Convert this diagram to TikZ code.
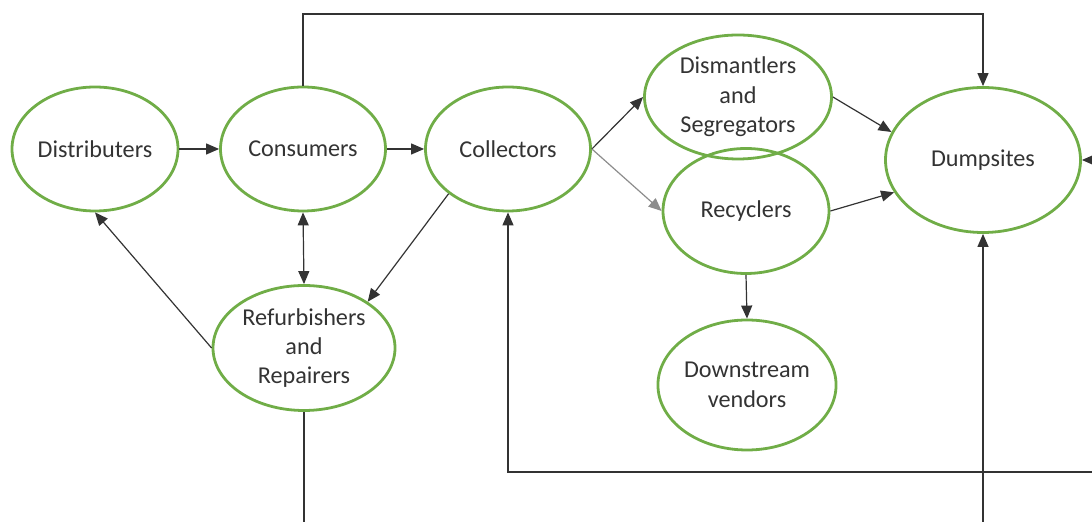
\documentclass[tikz,border=0pt]{standalone}
\usepackage{fontspec}
\setmainfont{Carlito}
\usetikzlibrary{shapes.geometric,arrows.meta}
\definecolor{leafgreen}{RGB}{112,173,71}

\begin{document}
\begin{tikzpicture}[x=0.5pt, y=-0.5pt,
    actor/.style={ellipse, draw=leafgreen, line width=1.4pt, inner sep=0pt, align=center,
        text=black!80, font=\fontsize{12.1}{14.7}\selectfont},
    flow/.style={draw=black!80, line width=0.6pt, -{Triangle[length=6.5pt, width=5.5pt]}}]
    \useasboundingbox (0,0) rectangle (1092,522);
    \node[actor, minimum width=83pt, minimum height=62pt] (dist) at (95,149) {Distributers};
    \node[actor, minimum width=82.5pt, minimum height=62pt] (con) at (303,149) {Consumers};
    \node[actor, minimum width=82.5pt, minimum height=62pt] (col) at (508,149) {Collectors};
    \node[actor, minimum width=93.5pt, minimum height=62pt] (dis) at (738,97) {Dismantlers\\and\\Segregators};
    \node[actor, minimum width=83pt, minimum height=62.5pt] (rec) at (746,211) {Recyclers};
    \node[actor, minimum width=97.5pt, minimum height=72.5pt] (dump) at (983,160) {Dumpsites};
    \node[actor, minimum width=91pt, minimum height=62.5pt] (ref) at (304,348) {Refurbishers\\and\\Repairers};
    \node[actor, minimum width=89pt, minimum height=65pt] (down) at (747,385) {Downstream\\vendors};

    \coordinate (topy) at (0,14);
    \coordinate (rightin) at (1094,160);
    \coordinate (botR) at (983,524);
    \coordinate (botL) at (304,524);
    \coordinate (loopR) at (1094,472);

    \draw[flow] (dist) -- (con);
    \draw[flow] (con) -- (col);
    \draw[flow] (col.east) -- (dis.west);
    \draw[flow, draw=black!45] (col.east) -- (rec.west);
    \draw[flow] (dis.east) -- (dump.163);
    \draw[flow] (rec.east) -- (dump.200);
    \draw[flow] (rec.south) -- (down.north);
    \draw[flow, {Triangle[length=6.5pt, width=5.5pt]}-{Triangle[length=6.5pt, width=5.5pt]}] (con.south) -- (ref.north);
    \draw[flow] (col.217) -- (ref.36);
    \draw[flow] (ref.west) -- (dist.south);
    \draw[flow] (con.north) -- (con.north |- topy) -| (dump.north);
    \draw[flow] (rightin) -- (dump.east);
    \draw[flow] (botR) -- (dump.south);
    \draw[flow] (loopR) -| (col.south);
    \draw[draw=black!80, line width=0.6pt] (ref.south) -- (botL);
\end{tikzpicture}
\end{document}
